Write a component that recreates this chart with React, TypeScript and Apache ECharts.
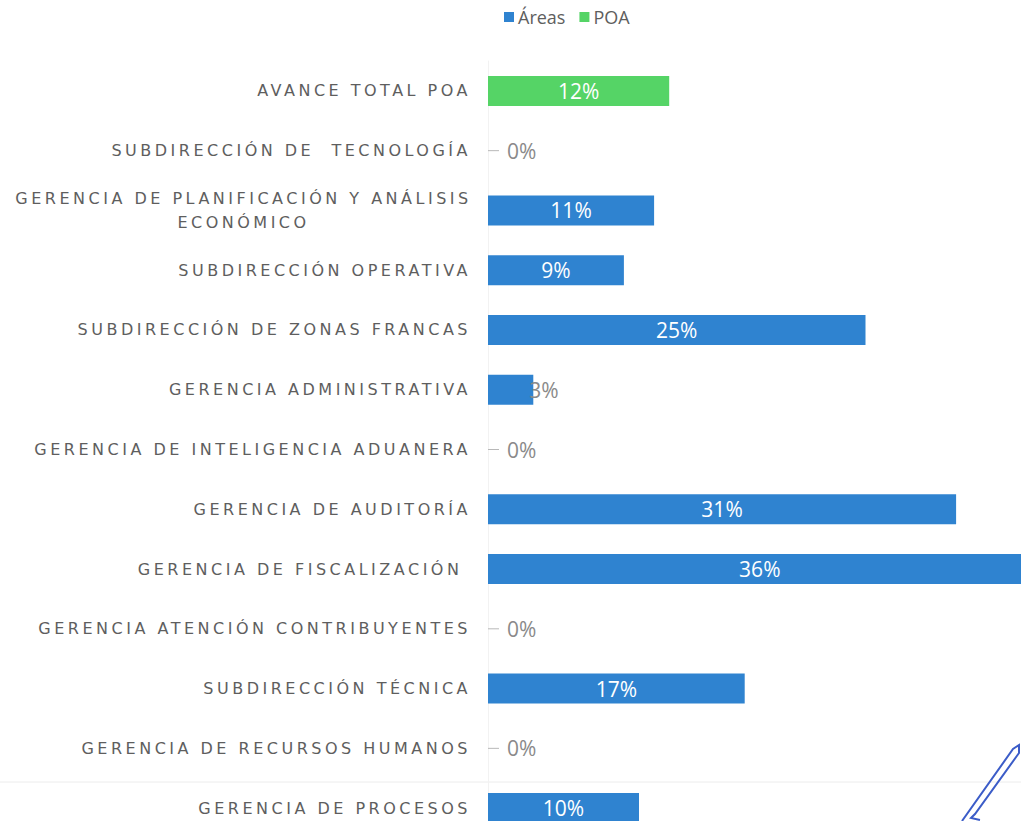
import React, { useEffect, useRef } from "react";
import * as echarts from "echarts";

const categories = [
  "AVANCE TOTAL POA",
  "SUBDIRECCIÓN DE  TECNOLOGÍA",
  "GERENCIA DE PLANIFICACIÓN Y ANÁLISIS\nECONÓMICO",
  "SUBDIRECCIÓN OPERATIVA",
  "SUBDIRECCIÓN DE ZONAS FRANCAS",
  "GERENCIA ADMINISTRATIVA",
  "GERENCIA DE INTELIGENCIA ADUANERA",
  "GERENCIA DE AUDITORÍA",
  "GERENCIA DE FISCALIZACIÓN ",
  "GERENCIA ATENCIÓN CONTRIBUYENTES",
  "SUBDIRECCIÓN TÉCNICA",
  "GERENCIA DE RECURSOS HUMANOS",
  "GERENCIA DE PROCESOS",
];

const areasValues: (number | null)[] = [null, 0, 11, 9, 25, 3, 0, 31, 36, 0, 17, 0, 10];
const poaValues: (number | null)[] = [12, null, null, null, null, null, null, null, null, null, null, null, null];

const BLUE = "#2f83d0";
const GREEN = "#55d466";
const GRAY = "#5e5e5e";
const LABEL_FONT = "'DejaVu Sans'";
const VALUE_FONT = "'Open Sans'";
const VALUE_SIZE = 21;

const zeroLabel = {
  show: true,
  position: "right",
  distance: 0,
  formatter: "{d|}{t|0%}",
  rich: {
    d: { width: 11, height: 1, backgroundColor: "#b8b8b8" },
    t: { color: "#8a8a8a", fontSize: VALUE_SIZE, fontFamily: VALUE_FONT, padding: [0, 0, 0, 8] },
  },
};

const smallLabel = {
  show: true,
  position: "right",
  distance: -4,
  color: "#8a8a8a",
  fontSize: VALUE_SIZE,
  fontFamily: VALUE_FONT,
  formatter: "{c}%",
};

function buildData(values: (number | null)[]) {
  return values.map((v) => {
    if (v === null) return null;
    if (v === 0) return { value: v, label: zeroLabel };
    if (v < 5) return { value: v, label: smallLabel };
    return { value: v };
  });
}

export default function App() {
  const ref = useRef<HTMLDivElement>(null);

  useEffect(() => {
    if (!ref.current) return;
    const chart = echarts.init(ref.current, undefined, { renderer: "svg" });
    const valueLabel = {
      show: true,
      position: "inside",
      color: "#ffffff",
      fontSize: VALUE_SIZE,
      fontFamily: VALUE_FONT,
      formatter: "{c}%",
    };
    chart.setOption({
      animation: false,
      backgroundColor: "#ffffff",
      legend: {
        left: 499,
        top: 3,
        itemWidth: 10,
        itemHeight: 10,
        itemGap: 14,
        icon: "rect",
        textStyle: { color: GRAY, fontSize: 18, fontFamily: VALUE_FONT, padding: [0, 0, 0, -1] },
        data: ["Áreas", "POA"],
      },
      grid: { left: 488, top: 61, width: 604, height: 777, outerBoundsMode: "none" },
      xAxis: {
        type: "value",
        min: 0,
        max: 40,
        show: false,
        splitLine: { show: false },
      },
      yAxis: {
        type: "category",
        inverse: true,
        data: categories,
        axisTick: { show: false },
        axisLine: { show: true, lineStyle: { color: "#f2f2f2", width: 1 } },
        axisLabel: {
          margin: 17,
          color: GRAY,
          fontSize: 16,
          fontFamily: LABEL_FONT,
          formatter: (val: string) => {
            if (val.indexOf("\n") >= 0) {
              return val
                .split("\n")
                .map((l) => "{c|" + l + "}")
                .join("\n");
            }
            return val;
          },
          rich: {
            c: {
              width: 455,
              align: "center",
              lineHeight: 24,
              color: GRAY,
              fontSize: 16,
              fontFamily: LABEL_FONT,
            },
          },
        },
      },
      series: [
        {
          name: "Áreas",
          type: "bar",
          stack: "s",
          barWidth: 30,
          itemStyle: { color: BLUE },
          label: valueLabel,
          data: buildData(areasValues),
        },
        {
          name: "POA",
          type: "bar",
          stack: "s",
          barWidth: 30,
          itemStyle: { color: GREEN },
          label: valueLabel,
          data: buildData(poaValues),
        },
      ],
      graphic: [
        {
          type: "line",
          shape: { x1: 0, y1: 782, x2: 1021, y2: 782 },
          style: { stroke: "#ececec", lineWidth: 1 },
          z: -1,
        },
        {
          type: "polyline",
          shape: {
            points: [
              [962, 821],
              [1013, 749],
              [1019, 745],
              [1019, 753],
              [975, 814],
              [971, 818],
              [980, 820],
            ],
          },
          style: { stroke: "#3b5cc8", lineWidth: 2, fill: "none" },
        },
      ],
    });
    return () => chart.dispose();
  }, []);

  return (
    <>
      <style>{`#chart-root svg text[style*="DejaVu"] { letter-spacing: 3.5px; }`}</style>
      <div
        id="chart-root"
        ref={ref}
        style={{ position: "absolute", left: 0, top: 0, width: 1021, height: 821 }}
      />
    </>
  );
}
